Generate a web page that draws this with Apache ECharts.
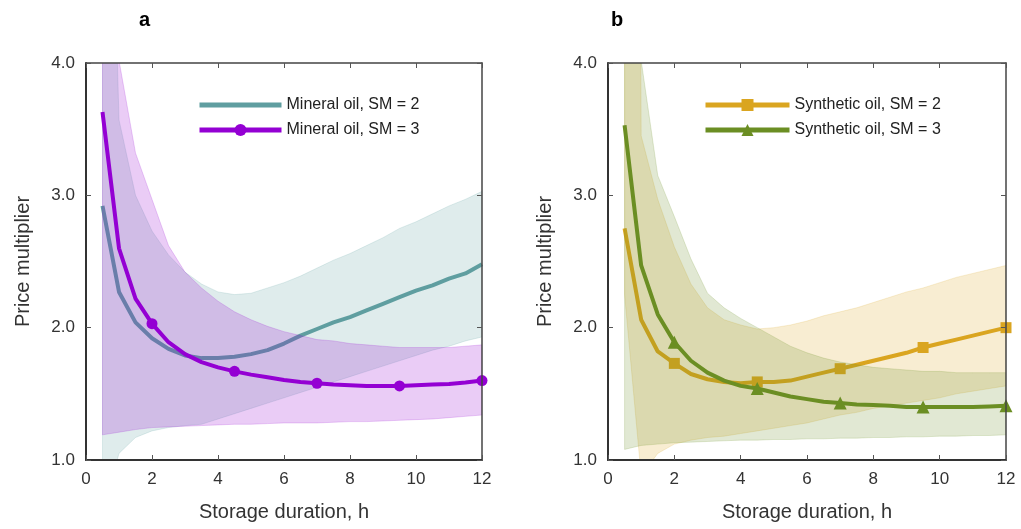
<!DOCTYPE html>
<html>
<head>
<meta charset="utf-8">
<script src="https://cdn.jsdelivr.net/npm/echarts@6/dist/echarts.min.js"></script>
<style>
    html, body { margin: 0; padding: 0; background: #fff; }
    #chart { width: 1021px; height: 529px; }
</style>
</head>
<body>
<div id="chart"></div>
<script>
// storage duration (h)
const durations = [0.5, 1, 1.5, 2, 2.5, 3, 3.5, 4, 4.5, 5, 5.5, 6, 6.5, 7, 7.5, 8, 8.5, 9, 9.5, 10, 10.5, 11, 11.5, 12];
// x values that carry a marker
const markerAt = [2, 4.5, 7, 9.5, 12];

// panel a - mineral oil
const mineralSM2 = [2.92, 2.27, 2.04, 1.92, 1.84, 1.79, 1.77, 1.77, 1.78, 1.80, 1.83, 1.88, 1.94, 1.99, 2.04, 2.08, 2.13, 2.18, 2.23, 2.28, 2.32, 2.37, 2.41, 2.48];
const mineralSM2Low = [0.6, 1.05, 1.17, 1.22, 1.245, 1.26, 1.27, 1.31, 1.35, 1.39, 1.43, 1.47, 1.51, 1.55, 1.59, 1.63, 1.67, 1.71, 1.75, 1.79, 1.83, 1.86, 1.90, 1.93];
const mineralSM2High = [8, 3.57, 3.0, 2.73, 2.55, 2.42, 2.33, 2.27, 2.25, 2.26, 2.30, 2.34, 2.39, 2.45, 2.51, 2.56, 2.62, 2.68, 2.75, 2.80, 2.86, 2.92, 2.97, 3.03];
const mineralSM3 = [3.63, 2.60, 2.22, 2.03, 1.89, 1.80, 1.74, 1.70, 1.67, 1.645, 1.625, 1.605, 1.59, 1.58, 1.57, 1.565, 1.56, 1.56, 1.56, 1.565, 1.57, 1.575, 1.585, 1.60];
const mineralSM3Low = [1.19, 1.21, 1.23, 1.245, 1.25, 1.255, 1.26, 1.265, 1.27, 1.27, 1.275, 1.28, 1.28, 1.28, 1.285, 1.29, 1.29, 1.295, 1.30, 1.305, 1.31, 1.32, 1.33, 1.34];
const mineralSM3High = [9, 4.02, 3.32, 2.97, 2.62, 2.42, 2.30, 2.20, 2.12, 2.06, 2.01, 1.97, 1.94, 1.91, 1.90, 1.88, 1.87, 1.86, 1.85, 1.85, 1.85, 1.85, 1.86, 1.87];

// panel b - synthetic oil
const syntheticSM2 = [2.75, 2.06, 1.82, 1.73, 1.65, 1.61, 1.59, 1.58, 1.59, 1.59, 1.60, 1.63, 1.66, 1.69, 1.72, 1.75, 1.78, 1.81, 1.85, 1.88, 1.91, 1.94, 1.97, 2.00];
const syntheticSM2Low = [2.25, 0.88, 1.05, 1.12, 1.15, 1.17, 1.18, 1.20, 1.22, 1.24, 1.26, 1.28, 1.31, 1.34, 1.36, 1.39, 1.41, 1.43, 1.45, 1.47, 1.50, 1.52, 1.54, 1.56];
const syntheticSM2High = [30, 3.45, 2.97, 2.61, 2.33, 2.15, 2.06, 2.02, 1.99, 2.0, 2.02, 2.05, 2.09, 2.12, 2.15, 2.19, 2.23, 2.27, 2.30, 2.34, 2.38, 2.41, 2.44, 2.47];
const syntheticSM3 = [3.53, 2.47, 2.10, 1.89, 1.75, 1.66, 1.60, 1.56, 1.54, 1.51, 1.48, 1.46, 1.44, 1.43, 1.42, 1.415, 1.41, 1.40, 1.40, 1.40, 1.40, 1.40, 1.405, 1.41];
const syntheticSM3Low = [1.08, 1.11, 1.12, 1.13, 1.135, 1.14, 1.145, 1.15, 1.15, 1.155, 1.155, 1.16, 1.16, 1.165, 1.165, 1.17, 1.17, 1.175, 1.175, 1.18, 1.18, 1.185, 1.185, 1.19];
const syntheticSM3High = [30, 4.02, 3.15, 2.84, 2.52, 2.26, 2.15, 2.07, 2.0, 1.93, 1.86, 1.81, 1.77, 1.74, 1.72, 1.70, 1.69, 1.68, 1.67, 1.67, 1.66, 1.66, 1.66, 1.66];

const yTicks = ['1.0', '2.0', '3.0', '4.0'];

const FONT = 'Liberation Sans, Arial, sans-serif';

function pairs(ys) {
    return durations.map((x, i) => [x, ys[i]]);
}

function hexToRgba(hex, a) {
    const n = parseInt(hex.slice(1), 16);
    return 'rgba(' + (n >> 16) + ',' + ((n >> 8) & 255) + ',' + (n & 255) + ',' + a + ')';
}

// uncertainty band, drawn as one polygon (upper edge forward, lower edge back)
function band(grid, low, high, color, z) {
    return {
        type: 'custom',
        xAxisIndex: grid * 2, yAxisIndex: grid * 2,
        data: durations.map((x, i) => [x, low[i], high[i]]),
        encode: { x: 0, y: [1, 2] },
        clip: true,
        silent: true,
        z: z,
        renderItem: function (params, api) {
            if (params.dataIndex !== 0) return null;
            const pts = [];
            for (let i = 0; i < durations.length; i++) pts.push(api.coord([durations[i], high[i]]));
            for (let i = durations.length - 1; i >= 0; i--) pts.push(api.coord([durations[i], low[i]]));
            return {
                type: 'polygon',
                shape: { points: pts },
                style: {
                    fill: hexToRgba(color, 0.2),
                    stroke: hexToRgba(color, 0.18),
                    lineWidth: 1
                }
            };
        }
    };
}

function mainLine(grid, name, values, color, symbol, size, z) {
    return {
        type: 'line',
        name: name,
        xAxisIndex: grid * 2, yAxisIndex: grid * 2,
        data: pairs(values),
        color: color,
        symbol: symbol,
        showAllSymbol: true,
        symbolSize: function (val) {
            return markerAt.indexOf(val[0]) >= 0 ? size : 0;
        },
        lineStyle: { width: 4, color: color },
        itemStyle: { color: color },
        z: z
    };
}

function axesFor(grid) {
    const xs = [{
        type: 'value', gridIndex: grid, min: 0, max: 12, interval: 2, position: 'bottom',
        name: 'Storage duration, h', nameLocation: 'middle', nameGap: 42,
        nameTextStyle: { fontSize: 20, color: '#333', fontFamily: FONT },
        axisLine: { show: true, onZero: false, lineStyle: { color: '#333', width: 2 } },
        axisTick: { inside: true, length: 5, lineStyle: { color: '#555' } },
        axisLabel: { margin: 11, fontSize: 17, color: '#333', fontFamily: FONT },
        splitLine: { show: false },
        z: 10
    }, {
        type: 'value', gridIndex: grid, min: 0, max: 12, interval: 2, position: 'top',
        axisLine: { show: true, onZero: false, lineStyle: { color: '#444', width: 1.5 } },
        axisTick: { inside: true, length: 5, lineStyle: { color: '#555' } },
        axisLabel: { show: false },
        splitLine: { show: false },
        z: 10
    }];
    const ys = [{
        type: 'value', gridIndex: grid, min: 1, max: 4, interval: 1, position: 'left',
        name: 'Price multiplier', nameLocation: 'middle', nameGap: 53,
        nameTextStyle: { fontSize: 20, color: '#333', fontFamily: FONT },
        axisLine: { show: true, onZero: false, lineStyle: { color: '#333', width: 2 } },
        axisTick: { inside: true, length: 5, lineStyle: { color: '#555' } },
        axisLabel: {
            margin: 11, fontSize: 17, color: '#333', fontFamily: FONT,
            formatter: v => yTicks[Math.round(v) - 1]
        },
        splitLine: { show: false },
        z: 10
    }, {
        type: 'value', gridIndex: grid, min: 1, max: 4, interval: 1, position: 'right',
        axisLine: { show: true, onZero: false, lineStyle: { color: '#444', width: 1.5 } },
        axisTick: { inside: true, length: 5, lineStyle: { color: '#555' } },
        axisLabel: { show: false },
        splitLine: { show: false },
        z: 10
    }];
    return { xs, ys };
}

const chart = echarts.init(document.getElementById('chart'));

const a = axesFor(0);
const b = axesFor(1);

const legendText = { fontSize: 16, color: '#222', fontFamily: FONT };

const option = {
    animation: false,
    backgroundColor: '#fff',
    title: [
        { text: 'a', left: 134, top: 5, textStyle: { fontSize: 20, fontWeight: 'bold', color: '#000', fontFamily: FONT } },
        { text: 'b', left: 606, top: 5, textStyle: { fontSize: 20, fontWeight: 'bold', color: '#000', fontFamily: FONT } }
    ],
    grid: [
        { left: 86, right: 539, top: 63, bottom: 69 },
        { left: 608, right: 15, top: 63, bottom: 69 }
    ],
    xAxis: [a.xs[0], a.xs[1], b.xs[0], b.xs[1]],
    yAxis: [a.ys[0], a.ys[1], b.ys[0], b.ys[1]],
    legend: [{
        data: [
            { name: 'Mineral oil, SM = 2', itemStyle: { opacity: 0 } },
            { name: 'Mineral oil, SM = 3' }
        ],
        orient: 'vertical', left: 197, top: 97, padding: 0,
        itemWidth: 82, itemHeight: 15, itemGap: 9,
        lineStyle: { width: 5 },
        textStyle: legendText
    }, {
        data: ['Synthetic oil, SM = 2', 'Synthetic oil, SM = 3'],
        orient: 'vertical', left: 703, top: 97, padding: 0,
        itemWidth: 84, itemHeight: 15, itemGap: 9,
        lineStyle: { width: 5 },
        textStyle: legendText
    }],
    series: [
        band(0, mineralSM2Low, mineralSM2High, '#5f9ea0', 2),
        mainLine(0, 'Mineral oil, SM = 2', mineralSM2, '#5f9ea0', 'none', 0, 3),
        band(0, mineralSM3Low, mineralSM3High, '#9400d3', 4),
        mainLine(0, 'Mineral oil, SM = 3', mineralSM3, '#9400d3', 'circle', 11, 5),
        band(1, syntheticSM2Low, syntheticSM2High, '#daa520', 2),
        mainLine(1, 'Synthetic oil, SM = 2', syntheticSM2, '#daa520', 'rect', 11, 3),
        band(1, syntheticSM3Low, syntheticSM3High, '#6b8e23', 4),
        mainLine(1, 'Synthetic oil, SM = 3', syntheticSM3, '#6b8e23', 'triangle', 13, 5)
    ]
};

chart.setOption(option);
</script>
</body>
</html>
